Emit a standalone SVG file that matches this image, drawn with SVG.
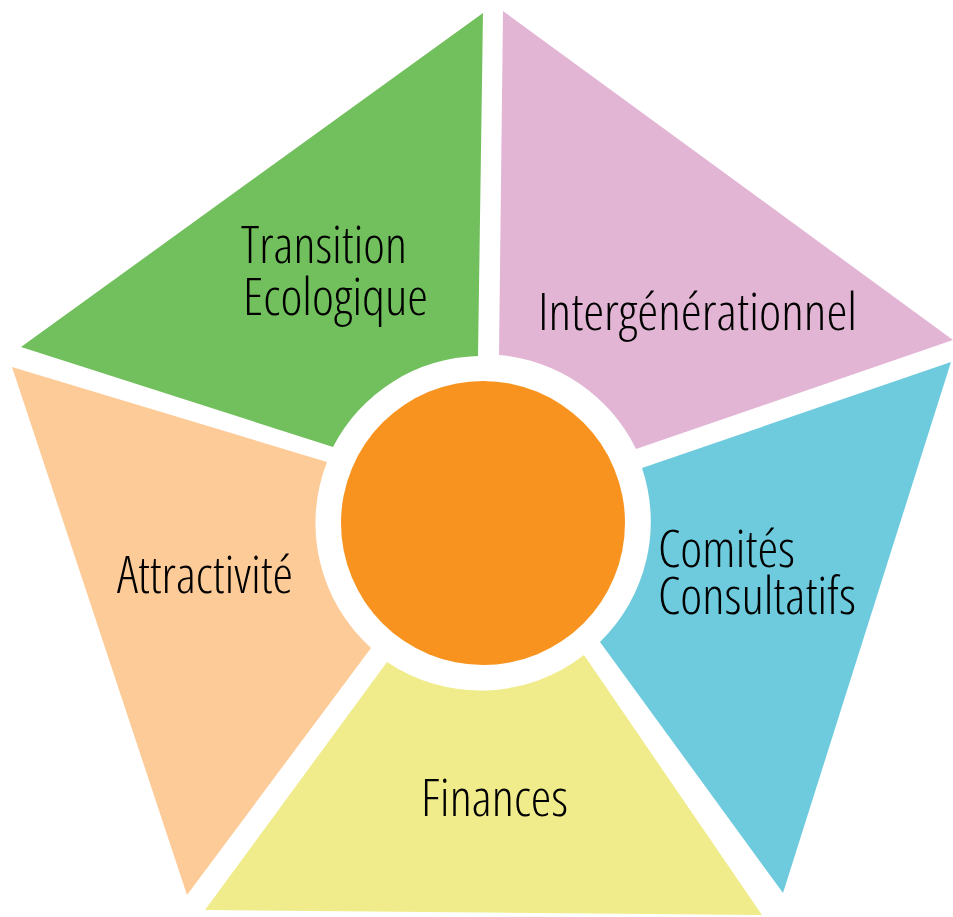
<svg xmlns="http://www.w3.org/2000/svg" width="953" height="917" viewBox="0 0 953 917">
<style>
.lbl{font-family:"Open Sans","Liberation Sans",sans-serif;font-weight:300;font-stretch:condensed;font-size:52px;fill:#000;}
</style>
<rect width="953" height="917" fill="#fff"/>
<g id="transition">
<path d="M21,347 L483,13 L478,356 A168 168 0 0 0 333,447 Z" fill="#72C05D"/>
<text class="lbl" x="241" y="263" textLength="166" lengthAdjust="spacingAndGlyphs">Transition</text>
<text class="lbl" x="243" y="315" textLength="185" lengthAdjust="spacingAndGlyphs">Ecologique</text>
</g>
<g id="intergenerationnel">
<path d="M503,11 L953,340 L636,449 A168 168 0 0 0 499,355 Z" fill="#E2B5D5"/>
<text class="lbl" x="538" y="330" textLength="319" lengthAdjust="spacingAndGlyphs">Intergénérationnel</text>
</g>
<g id="comites">
<path d="M951,362 L783,893 L600,642 A168 168 0 0 0 642,468 Z" fill="#6ECBDD"/>
<text class="lbl" x="658" y="567" textLength="137" lengthAdjust="spacingAndGlyphs">Comités</text>
<text class="lbl" x="658" y="614" textLength="198" lengthAdjust="spacingAndGlyphs">Consultatifs</text>
</g>
<g id="finances">
<path d="M205,910 L387,662 A168 168 0 0 0 584,655 L762,915 Z" fill="#F0EC8C"/>
<text class="lbl" x="421" y="816" textLength="147" lengthAdjust="spacingAndGlyphs">Finances</text>
</g>
<g id="attractivite">
<path d="M12,367 L327,462 A168 168 0 0 0 371,648 L187,895 Z" fill="#FDCB98"/>
<text class="lbl" x="117" y="593" textLength="176" lengthAdjust="spacingAndGlyphs">Attractivité</text>
</g>
<g id="center">
<circle cx="483" cy="523" r="142" fill="#F7931E"/>
</g>
<g id="connectors"/>
</svg>
